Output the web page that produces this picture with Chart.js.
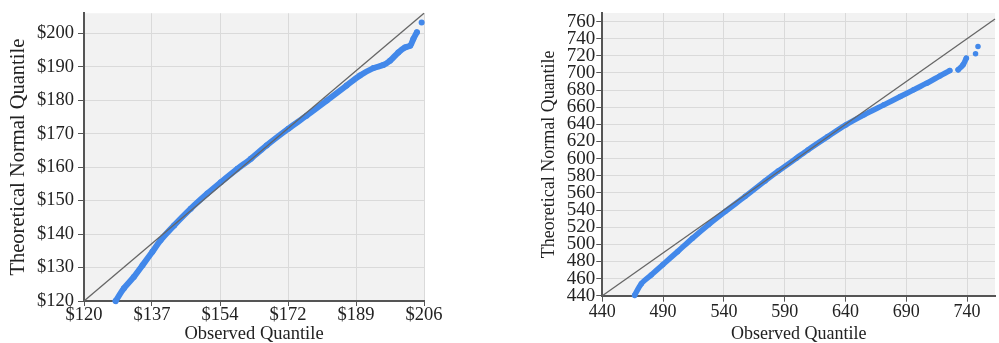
<!DOCTYPE html>
<html><head><meta charset="utf-8">
<script src="https://cdn.jsdelivr.net/npm/chart.js@4"></script>
<style>
html,body{margin:0;padding:0;background:#fff;width:999px;height:343px;overflow:hidden}
canvas{position:absolute;top:0}
#c1{left:0}
#c2{left:530px}
</style></head><body>
<canvas id="c1" width="460" height="343"></canvas>
<canvas id="c2" width="469" height="343"></canvas>
<script>
// ---------- Left chart: price quantiles ----------
const priceObserved    = [128.0,130.1,132.6,134.8,137.3,139.4,142.8,147.0,151.2,154.6,158.8,162.2,166.2,171.7,176.3,181.4,186.4,189.8,193.2,195.7,197.4,199.5,201.2,202.5,203.3,204.2];
const priceTheoretical = [120.0,123.8,127.2,130.7,134.7,138.2,142.6,147.6,152.1,155.5,159.5,162.5,166.5,171.5,175.4,179.9,184.4,187.4,189.6,190.5,191.8,194.3,195.8,196.3,198.3,200.3];
const priceTailObserved    = [205.4];
const priceTailTheoretical = [203.2];
const priceRange = [120, 206];
const priceXTicks = [120, 137.2, 154.4, 171.6, 188.8, 206];
const priceXLabels = ['$120','$137','$154','$172','$189','$206'];
const priceYTicks = [120,130,140,150,160,170,180,190,200];
const priceYLabels = ['$120','$130','$140','$150','$160','$170','$180','$190','$200'];

// ---------- Right chart: score quantiles ----------
const scoreObserved    = [466.6,472.1,480.2,489.7,501.9,514.1,527.7,541.3,557.6,573.9,584.7,599.6,609.1,625.4,640.3,655.3,671.6,685.1,696.0,706.9,717.7,725.8];
const scoreTheoretical = [440.5,454.0,464.2,476.2,491.4,507.0,523.3,538.5,556.0,574.0,585.5,600.5,610.2,625.7,639.4,651.1,662.8,672.5,680.3,688.1,696.6,702.8];
const scoreSegObserved    = [732.7,736.7,739.4];
const scoreSegTheoretical = [703.7,709.5,717.3];
const scoreDotsObserved    = [747.0,749.0];
const scoreDotsTheoretical = [722.4,730.9];
const scoreXRange = [440, 763];
const scoreYRange = [440, 770];
const scoreXTicks = [440,490,540,590,640,690,740];
const scoreXLabels = ['440','490','540','590','640','690','740'];
const scoreYTicks = [440,460,480,500,520,540,560,580,600,620,640,660,680,700,720,740,760];
const scoreYLabels = scoreYTicks.map(String);

const BLUE = '#4288ea';
const FONT = "'Liberation Serif', 'Times New Roman', serif";
const pts = (xs, ys) => xs.map((x, i) => ({x, y: ys[i]}));

const bgPlugin = {
  id: 'plotBg',
  beforeDraw(chart) {
    const {ctx, chartArea: a} = chart;
    ctx.save();
    ctx.fillStyle = '#f2f2f2';
    ctx.fillRect(a.left, a.top, a.right - a.left, a.bottom - a.top);
    ctx.restore();
  }
};

function series(data, width, line) {
  return {data, showLine: line, tension: 0.3, borderColor: BLUE, backgroundColor: BLUE, borderWidth: width,
    pointRadius: width / 2, pointBorderWidth: 0, borderCapStyle: 'round', borderJoinStyle: 'round', clip: false};
}

function makeChart(id, cfg) {
  return new Chart(document.getElementById(id), {
    type: 'scatter',
    plugins: [bgPlugin],
    data: {datasets: [
      {data: cfg.diag, showLine: true, borderColor: '#666', borderWidth: 1.3, pointRadius: 0, clip: false},
      ...cfg.sets
    ]},
    options: {
      responsive: false, animation: false,
      layout: {padding: cfg.pad},
      plugins: {legend: {display: false}, tooltip: {enabled: false}},
      scales: {
        x: {
          type: 'linear', min: cfg.xr[0], max: cfg.xr[1], bounds: 'data',
          afterBuildTicks: s => { s.ticks = cfg.xt.map(v => ({value: v})); },
          afterFit: s => { s.height = cfg.xh; },
          ticks: {callback: (v, i) => cfg.xl[i], font: {family: FONT, size: cfg.xfs, lineHeight: 1}, color: '#222', padding: cfg.xpad, maxRotation: 0, autoSkip: false},
          grid: {color: '#dadada', lineWidth: 1, tickColor: '#555', tickLength: cfg.xtl},
          border: {color: '#555', width: 2},
          title: {display: true, text: 'Observed Quantile', font: {family: FONT, size: cfg.tfs, lineHeight: 1}, color: '#222', padding: {top: 0, bottom: 0}}
        },
        y: {
          type: 'linear', min: cfg.yr[0], max: cfg.yr[1], bounds: 'data',
          afterBuildTicks: s => { s.ticks = cfg.yt.map(v => ({value: v})); },
          afterFit: s => { s.width = cfg.yw; },
          ticks: {callback: (v, i) => cfg.yl[i], font: {family: FONT, size: cfg.yfsT, lineHeight: 1}, color: '#222', padding: cfg.ypad, autoSkip: false},
          grid: {color: '#dadada', lineWidth: 1, tickColor: '#555', tickLength: cfg.ytl},
          border: {color: '#555', width: 2},
          title: {display: true, text: 'Theoretical Normal Quantile', font: {family: FONT, size: cfg.yfs, lineHeight: 1}, color: '#222', padding: {top: cfg.ytp, bottom: 0}}
        }
      }
    }
  });
}

makeChart('c1', {
  diag: [{x: priceRange[0], y: priceRange[0]}, {x: priceRange[1], y: priceRange[1]}],
  sets: [series(pts(priceObserved, priceTheoretical), 6, true), series(pts(priceTailObserved, priceTailTheoretical), 6, false)],
  pad: {top: 12, right: 36, left: 0, bottom: 0},
  xr: priceRange, yr: priceRange, xt: priceXTicks, xl: priceXLabels, yt: priceYTicks, yl: priceYLabels,
  xh: 42, yw: 84, xfs: 18.5, yfsT: 18.5, tfs: 18.5, yfs: 20.5, ytp: 8, xpad: 0, ypad: 4, xtl: 5, ytl: 6
});

makeChart('c2', {
  diag: [{x: scoreXRange[0], y: scoreXRange[0]}, {x: scoreXRange[1], y: scoreXRange[1]}],
  sets: [series(pts(scoreObserved, scoreTheoretical), 5.5, true), series(pts(scoreSegObserved, scoreSegTheoretical), 5.5, true), series(pts(scoreDotsObserved, scoreDotsTheoretical), 5.5, false)],
  pad: {top: 13, right: 0, left: 0, bottom: 0},
  xr: scoreXRange, yr: scoreYRange, xt: scoreXTicks, xl: scoreXLabels, yt: scoreYTicks, yl: scoreYLabels,
  xh: 47.3, yw: 72.3, xfs: 18, yfsT: 19, tfs: 18, yfs: 18, ytp: 9.9, xpad: 2, ypad: 1, xtl: 6, ytl: 6
});
</script>
</body></html>
